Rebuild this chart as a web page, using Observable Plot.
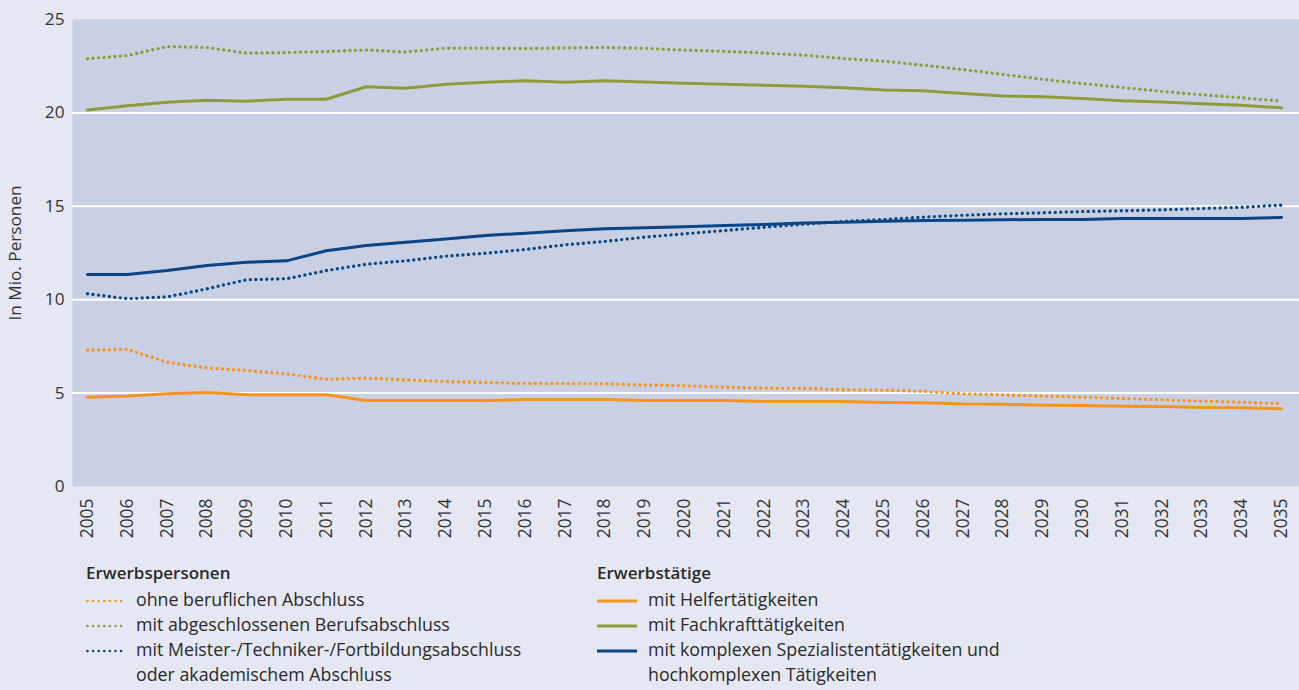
<!DOCTYPE html>
<html><head><meta charset="utf-8">
<script src="https://cdn.jsdelivr.net/npm/d3@7"></script>
<script src="https://cdn.jsdelivr.net/npm/@observablehq/plot@0.6"></script>
<style>
body{margin:0;background:#e5e8f3;font-family:"Open Sans","Liberation Sans",Arial,sans-serif;}
#wrap{position:relative;width:1299px;height:690px;overflow:hidden;}
.legend{position:absolute;top:560px;font-family:"Open Sans","Liberation Sans",Arial,sans-serif;font-size:17.8px;color:#2a2a2a;}
.legend .h{font-weight:600;font-size:17px;line-height:25px;height:26.5px;}
.legend .r{display:flex;line-height:25px;}
.legend .r svg{flex:none;}
.legend .r span{display:block;}
</style></head>
<body><div id="wrap"></div>
<script>
const years = d3.range(2005, 2036);
const seriesNames = [
  "ohne beruflichen Abschluss",
  "mit abgeschlossenen Berufsabschluss",
  "mit Meister-/Techniker-/Fortbildungsabschluss oder akademischem Abschluss",
  "mit Helfertätigkeiten",
  "mit Fachkrafttätigkeiten",
  "mit komplexen Spezialistentätigkeiten und hochkomplexen Tätigkeiten"
];
const seriesColors = ["#f7941d", "#8d9c3a", "#0a4585", "#f7941d", "#8d9c3a", "#0a4585"];
const seriesDotted = [true, true, true, false, false, false];

const ohne = [7.30,7.35,6.65,6.35,6.21,6.03,5.74,5.80,5.71,5.62,5.57,5.51,5.51,5.50,5.44,5.39,5.32,5.26,5.25,5.18,5.16,5.09,4.96,4.91,4.84,4.78,4.71,4.64,4.57,4.51,4.44];
const beruf = [22.90,23.07,23.55,23.50,23.20,23.23,23.29,23.37,23.26,23.47,23.47,23.45,23.48,23.50,23.46,23.36,23.30,23.20,23.09,22.91,22.77,22.55,22.32,22.06,21.80,21.57,21.36,21.15,20.97,20.81,20.63];
const meister = [10.32,10.05,10.15,10.58,11.07,11.12,11.56,11.90,12.08,12.33,12.49,12.69,12.94,13.12,13.35,13.53,13.70,13.88,14.04,14.19,14.29,14.42,14.52,14.60,14.65,14.72,14.76,14.81,14.88,14.95,15.06];
const helfer = [4.78,4.84,4.96,5.03,4.91,4.91,4.91,4.60,4.60,4.60,4.60,4.66,4.66,4.66,4.60,4.60,4.60,4.55,4.55,4.55,4.50,4.48,4.41,4.40,4.35,4.34,4.30,4.28,4.23,4.22,4.16];
const fachkraft = [20.15,20.38,20.57,20.68,20.63,20.73,20.73,21.40,21.32,21.53,21.64,21.72,21.64,21.72,21.66,21.59,21.54,21.48,21.43,21.34,21.23,21.18,21.04,20.91,20.86,20.77,20.65,20.59,20.49,20.41,20.27];
const spezial = [11.35,11.35,11.56,11.83,12.00,12.08,12.62,12.90,13.08,13.25,13.44,13.56,13.69,13.80,13.85,13.90,13.97,14.03,14.10,14.15,14.20,14.24,14.25,14.28,14.30,14.30,14.35,14.35,14.35,14.35,14.40];
const yTicks = [0, 5, 10, 15, 20, 25];
const gridTicks = [5, 10, 15, 20];

const allValues = [ohne, beruf, meister, helfer, fachkraft, spezial];
const data = allValues.flatMap((vals, i) => vals.map((v, j) => ({year: years[j], value: v, series: seriesNames[i], dotted: seriesDotted[i]})));

const chart = Plot.plot({
  width: 1299, height: 545,
  marginLeft: 72, marginRight: 0, marginTop: 19, marginBottom: 59,
  style: {background: "transparent", fontFamily: "'Open Sans', 'Liberation Sans', Arial, sans-serif", fontSize: "17px", color: "#333"},
  x: {type: "linear", domain: [2004.623, 2035.452]},
  y: {domain: [0, 25]},
  color: {domain: seriesNames, range: seriesColors},
  marks: [
    Plot.frame({fill: "#cad0e3", stroke: null}),
    Plot.gridY(gridTicks, {stroke: "white", strokeOpacity: 1, strokeWidth: 2}),
    Plot.axisY(yTicks, {tickSize: 0, tickPadding: 8, label: "In Mio. Personen", labelAnchor: "center", labelArrow: "none", labelOffset: 64, fontSize: 17.2}),
    Plot.axisX(years, {tickSize: 0, tickPadding: 12, tickRotate: -90, tickFormat: d => String(d), label: null, fontSize: 17.4}),
    Plot.line(data.filter(d => !d.dotted), {x: "year", y: "value", z: "series", stroke: "series", strokeWidth: 3}),
    Plot.line(data.filter(d => d.dotted), {x: "year", y: "value", z: "series", stroke: "series", strokeWidth: 3.4, strokeDasharray: "0 5.5", strokeLinecap: "round"})
  ]
});
const wrap = document.getElementById("wrap");
wrap.appendChild(chart);

function swatch(color, dotted, w) {
  const ns = "http://www.w3.org/2000/svg";
  const s = document.createElementNS(ns, "svg");
  s.setAttribute("width", w); s.setAttribute("height", 25);
  const l = document.createElementNS(ns, "line");
  l.setAttribute("x1", dotted ? 1.5 : 0); l.setAttribute("x2", dotted ? w - 1 : w);
  l.setAttribute("y1", 14); l.setAttribute("y2", 14);
  l.setAttribute("stroke", color);
  l.setAttribute("stroke-width", dotted ? 2.6 : 3);
  if (dotted) { l.setAttribute("stroke-dasharray", "0 5.6"); l.setAttribute("stroke-linecap", "round"); }
  s.appendChild(l);
  return s;
}
const groups = [
  {title: "Erwerbspersonen", left: 86, sw: 37, gap: 13, items: [
    {idx: 0, lines: ["ohne beruflichen Abschluss"]},
    {idx: 1, lines: ["mit abgeschlossenen Berufsabschluss"]},
    {idx: 2, lines: ["mit Meister-/Techniker-/Fortbildungsabschluss", "oder akademischem Abschluss"]}
  ]},
  {title: "Erwerbstätige", left: 597, sw: 40, gap: 11, items: [
    {idx: 3, lines: ["mit Helfertätigkeiten"]},
    {idx: 4, lines: ["mit Fachkrafttätigkeiten"]},
    {idx: 5, lines: ["mit komplexen Spezialistentätigkeiten und", "hochkomplexen Tätigkeiten"]}
  ]}
];
groups.forEach(g => {
  const div = document.createElement("div");
  div.className = "legend"; div.style.left = g.left + "px";
  const h = document.createElement("div"); h.className = "h"; h.textContent = g.title; div.appendChild(h);
  g.items.forEach(it => {
    const r = document.createElement("div"); r.className = "r";
    r.appendChild(swatch(seriesColors[it.idx], seriesDotted[it.idx], g.sw));
    const t = document.createElement("div"); t.style.marginLeft = g.gap + "px";
    it.lines.forEach(line => { const sp = document.createElement("span"); sp.textContent = line; t.appendChild(sp); });
    r.appendChild(t);
    div.appendChild(r);
  });
  wrap.appendChild(div);
});
</script></body></html>
